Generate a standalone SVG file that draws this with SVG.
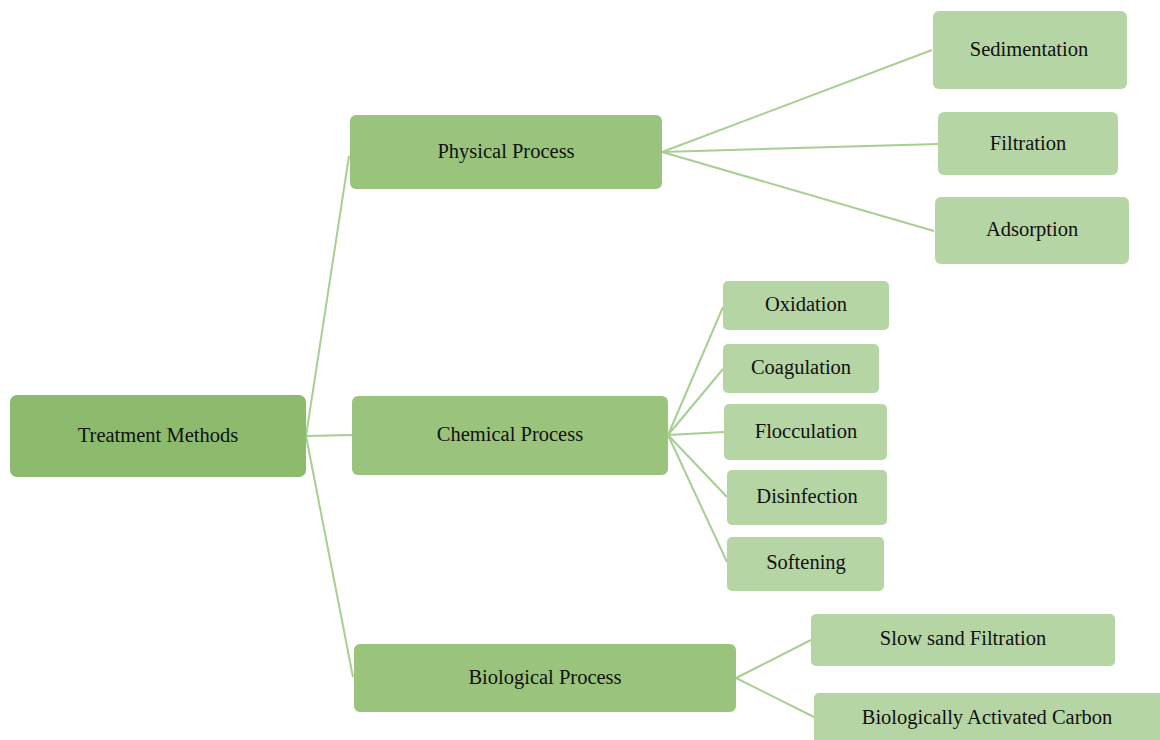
<svg xmlns="http://www.w3.org/2000/svg" width="1160" height="740" viewBox="0 0 1160 740">
  <style>
    .root rect { fill: #8dbb6d; }
    .mid rect { fill: #9ac47c; }
    .leaf rect { fill: #b6d5a4; }
    text { font-family: "Liberation Serif", "Times New Roman", serif; font-size: 20.5px; fill: #111; text-anchor: middle; }
    .links line { stroke: #a8cf92; stroke-width: 2; fill: none; }
  </style>
  <rect width="1160" height="740" fill="#ffffff"/>

  <g class="links" id="connectors">
    <line x1="306" y1="436" x2="349" y2="156"/>
    <line x1="306" y1="436" x2="352" y2="435"/>
    <line x1="306" y1="436" x2="353" y2="677"/>
    <line x1="662" y1="152" x2="932" y2="50"/>
    <line x1="662" y1="152" x2="938" y2="144"/>
    <line x1="662" y1="152" x2="934" y2="231"/>
    <line x1="668" y1="435" x2="723" y2="307"/>
    <line x1="668" y1="435" x2="723" y2="369"/>
    <line x1="668" y1="435" x2="724" y2="432"/>
    <line x1="668" y1="435" x2="727" y2="497"/>
    <line x1="668" y1="435" x2="727" y2="562"/>
    <line x1="736" y1="678" x2="811" y2="640"/>
    <line x1="736" y1="678" x2="814" y2="717"/>
  </g>

  <g id="treatment-methods" class="root">
    <rect x="10" y="395" width="296" height="82" rx="7"/>
    <text x="158" y="442">Treatment Methods</text>
  </g>

  <g id="physical-process" class="mid">
    <rect x="350" y="115" width="312" height="74" rx="6"/>
    <text x="506" y="158">Physical Process</text>
  </g>
  <g id="chemical-process" class="mid">
    <rect x="352" y="396" width="316" height="79" rx="6"/>
    <text x="510" y="441">Chemical Process</text>
  </g>
  <g id="biological-process" class="mid">
    <rect x="354" y="644" width="382" height="68" rx="6"/>
    <text x="545" y="684">Biological Process</text>
  </g>

  <g id="sedimentation" class="leaf">
    <rect x="933" y="11" width="194" height="78" rx="6"/>
    <text x="1029" y="56">Sedimentation</text>
  </g>
  <g id="filtration" class="leaf">
    <rect x="938" y="112" width="180" height="63" rx="6"/>
    <text x="1028" y="150">Filtration</text>
  </g>
  <g id="adsorption" class="leaf">
    <rect x="935" y="197" width="194" height="67" rx="6"/>
    <text x="1032" y="236">Adsorption</text>
  </g>

  <g id="oxidation" class="leaf">
    <rect x="723" y="281" width="166" height="49" rx="5"/>
    <text x="806" y="311">Oxidation</text>
  </g>
  <g id="coagulation" class="leaf">
    <rect x="723" y="344" width="156" height="49" rx="5"/>
    <text x="801" y="374">Coagulation</text>
  </g>
  <g id="flocculation" class="leaf">
    <rect x="724" y="404" width="163" height="56" rx="5"/>
    <text x="806" y="438">Flocculation</text>
  </g>
  <g id="disinfection" class="leaf">
    <rect x="727" y="470" width="160" height="55" rx="5"/>
    <text x="807" y="503">Disinfection</text>
  </g>
  <g id="softening" class="leaf">
    <rect x="727" y="537" width="157" height="54" rx="5"/>
    <text x="806" y="569">Softening</text>
  </g>

  <g id="slow-sand-filtration" class="leaf">
    <rect x="811" y="614" width="304" height="52" rx="5"/>
    <text x="963" y="645">Slow sand Filtration</text>
  </g>
  <g id="biologically-activated-carbon" class="leaf">
    <rect x="814" y="693" width="360" height="60" rx="5"/>
    <text x="987" y="724">Biologically Activated Carbon</text>
  </g>
</svg>
